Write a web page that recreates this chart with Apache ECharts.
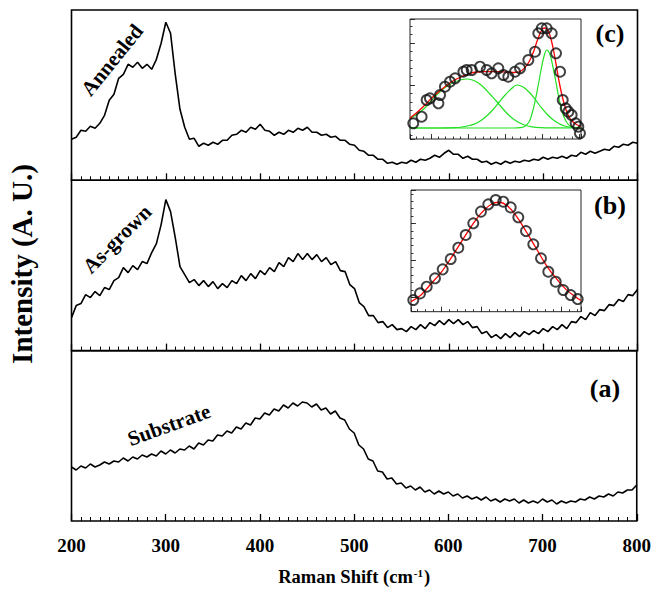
<!DOCTYPE html>
<html><head><meta charset="utf-8">
<script src="https://cdn.jsdelivr.net/npm/echarts@6/dist/echarts.min.js"></script>
<style>html,body{margin:0;padding:0;background:#fff}#c{width:654px;height:596px}</style>
</head><body><div id="c"></div>
<script>
// Raman shift sampling grid (cm^-1), 200..800 every 5
const ramanShift = Array.from({length:121}, (_, i) => 200 + 5 * i);
const xTicks = [200, 300, 400, 500, 600, 700, 800];

// (c) Annealed
const annealed = [41,43,50,49,54,52,57,65,80,86,
 102,106,116,113,118,112,116,111,121,137,
 158,147,106,71,53,41,42,34,37,35,
 38,36,40,40,45,46,50,48,53,51,
 56,50,49,45,48,46,50,48,52,50,
 53,48,48,45,46,43,44,40,40,36,
 35,30,29,25,25,21,21,17,18,16,
 18,17,20,18,21,20,22,25,23,27,
 30,26,26,22,24,21,21,18,19,16,
 18,16,19,17,19,18,20,19,21,20,
 23,21,23,22,24,22,25,24,28,26,
 29,27,29,31,30,34,33,36,35,38,
 37];
// (b) As-grown
const asGrown = [33,45,47,56,53,59,55,63,61,70,
 73,83,78,85,81,89,87,98,107,126,
 151,139,113,84,76,68,71,65,70,64,
 69,62,67,63,70,67,75,70,77,72,
 80,76,83,79,88,84,93,89,97,91,
 97,91,96,89,93,86,89,80,79,66,
 62,48,44,35,35,28,29,23,26,21,
 22,19,24,21,26,22,28,25,30,26,
 31,27,31,26,29,23,24,17,19,13,
 16,12,17,13,18,14,19,16,20,17,
 22,19,24,21,26,22,29,28,34,31,
 38,35,41,40,46,45,51,49,56,55,
 61];
// (a) Substrate
const substrate = [54,51,55,53,57,54,56,59,57,60,
 59,63,60,64,62,66,64,67,65,70,
 67,71,68,72,71,75,72,78,76,81,
 80,86,85,90,88,94,92,98,96,103,
 102,108,106,112,110,116,113,118,115,119,
 118,114,117,111,113,107,110,103,101,92,
 88,76,72,62,60,50,49,42,43,37,
 38,33,35,31,34,29,31,27,30,27,
 29,25,27,23,25,22,24,21,24,20,
 22,19,22,20,22,18,21,18,20,18,
 22,19,21,17,20,18,20,19,22,21,
 24,22,25,24,27,25,29,28,31,31,
 36];

// Inset (c): data points, fit and components
const insetCPointsX = [212.2,217.8,221.2,223.4,229.1,230.2,233.5,236.9,240.3,245.9,248.1,251.5,257.1,261.6,264.9,269.4,272.8,276.1,280.6,284,289.6,294.1,296.3,298.6,301.9,305.3,308.2,310.9,312.7,314.7,316.5,318.7,321.4,323.2,324.3];
const insetCPointsY = [0.047,0.113,0.28,0.297,0.247,0.33,0.413,0.463,0.497,0.563,0.58,0.58,0.613,0.58,0.547,0.597,0.53,0.513,0.563,0.597,0.68,0.763,0.947,0.997,0.997,0.947,0.747,0.563,0.28,0.197,0.163,0.13,0.047,0.013,-0.053];
const insetCFitX = [210,215,220,225,230,235,240,245,250,255,260,265,270,275,280,284,287,290,293,296,299,301,303,305,307,309,311,313,315,317,319,322,325];
const insetCFitY = [0.1,0.16,0.23,0.305,0.37,0.43,0.48,0.515,0.545,0.56,0.563,0.563,0.563,0.558,0.555,0.565,0.6,0.66,0.76,0.89,0.99,1.0,0.97,0.88,0.74,0.57,0.41,0.28,0.18,0.11,0.07,0.035,0.015];
const insetCG1X = [210,215,220,225,230,235,240,245,248,252,256,260,264,268,272,276,280,284,288,292,298,305,325];
const insetCG1Y = [0.097,0.14,0.2,0.285,0.36,0.42,0.46,0.485,0.49,0.48,0.45,0.4,0.335,0.27,0.2,0.135,0.085,0.05,0.025,0.012,0.004,0.001,0];
const insetCG2X = [210,230,240,245,250,255,260,265,270,274,278,282,286,290,294,298,302,306,310,314,318,325];
const insetCG2Y = [0,0,0.003,0.01,0.025,0.05,0.1,0.17,0.26,0.33,0.39,0.43,0.41,0.36,0.29,0.21,0.14,0.085,0.045,0.02,0.008,0.002];
const insetCG3X = [210,280,284,287,290,292,294,296,298,300,302,304,306,308,310,312,314,316,318,320,325];
const insetCG3Y = [0,0,0.003,0.015,0.06,0.14,0.26,0.41,0.57,0.71,0.78,0.74,0.62,0.47,0.31,0.18,0.095,0.045,0.018,0.007,0];

// Inset (b): data points and fit
const insetBPointsX = [2.3,9,15.7,24,31.7,39.7,47.3,54.7,62.3,70,77.3,84.7,92.3,99.7,107.3,115,122.3,130,137.3,144.7,152.3,159.7,166.7];
const insetBPointsY = [0.104,0.164,0.224,0.299,0.379,0.472,0.573,0.687,0.791,0.896,0.961,1.0,0.985,0.934,0.845,0.722,0.603,0.478,0.358,0.269,0.194,0.149,0.113];
const insetBFitX = [0,10,20,30,40,50,60,70,80,88,96,105,115,125,135,145,155,165,170];
const insetBFitY = [0.09,0.15,0.25,0.35,0.48,0.62,0.76,0.88,0.96,0.98,0.95,0.86,0.72,0.57,0.42,0.3,0.2,0.13,0.1];

const FONT = "'Liberation Serif','Times New Roman',serif";
const zip = (xs, ys) => xs.map((x, i) => [x, ys[i]]);

const chart = echarts.init(document.getElementById('c'), null, {renderer: 'svg'});

const mainGrid = (top) => ({left: 71.5, top: top, width: 566, height: 170.3, show: true,
  borderColor: '#000', borderWidth: 1.6, backgroundColor: 'transparent'});

const mainX = (g, labels) => ({
  type: 'value', gridIndex: g, min: 200, max: 800, interval: 100, position: 'bottom',
  axisLine: {show: false, onZero: false},
  axisTick: {show: true, inside: true, length: 7, lineStyle: {color: '#000', width: 1.3}},
  minorTick: {show: true, splitNumber: 10, length: 4, lineStyle: {color: '#000', width: 1}},
  splitLine: {show: false}, minorSplitLine: {show: false},
  axisLabel: {show: labels, margin: 15, color: '#000', fontFamily: FONT, fontWeight: 'bold', fontSize: 19},
  name: labels ? 'Raman Shift (cm{sup|-1})' : '',
  nameLocation: 'middle', nameGap: 46,
  nameTextStyle: {color: '#000', fontFamily: FONT, fontWeight: 'bold', fontSize: 18.5,
    rich: {sup: {fontSize: 11, fontFamily: FONT, fontWeight: 'bold', color: '#000', verticalAlign: 'top', padding: [0, 1, 9, 1]}}}
});
const mainY = (g) => ({type: 'value', gridIndex: g, min: 0, max: 170.3, show: false});

// Data axes of the insets (invisible, carry the series)
const insetDataX = (g, min, max) => ({type: 'value', gridIndex: g, min: min, max: max, position: 'bottom',
  axisLine: {show: false, onZero: false}, axisLabel: {show: false}, axisTick: {show: false}, splitLine: {show: false}});
const insetDataY = (g, min, max) => ({type: 'value', gridIndex: g, min: min, max: max, position: 'left',
  axisLine: {show: false, onZero: false}, axisLabel: {show: false}, axisTick: {show: false}, splitLine: {show: false}});
// Tick-only axes of the insets (in tick-step units, ticks on multiples of the step)
const tickAxis = (dim, g, min, max, step, len) => ({
  type: 'value', gridIndex: g, min: min, max: max, minInterval: step, maxInterval: step,
  position: dim === 'x' ? 'bottom' : 'left',
  axisLine: {show: false, onZero: false}, axisLabel: {show: false}, splitLine: {show: false},
  axisTick: {show: true, inside: true, length: len, lineStyle: {color: '#222', width: 0.9}}
});

const spectrum = (g, data) => ({
  type: 'line', xAxisIndex: g, yAxisIndex: g, data: zip(ramanShift, data),
  showSymbol: false, symbol: 'none', lineStyle: {color: '#000', width: 1.6}, z: 3
});
const fitLine = (xi, xs, ys, color, w) => ({
  type: 'line', xAxisIndex: xi, yAxisIndex: xi, data: zip(xs, ys), smooth: 0.4,
  showSymbol: false, symbol: 'none', lineStyle: {color: color, width: w}, z: 4
});
const points = (xi, xs, ys) => ({
  type: 'scatter', xAxisIndex: xi, yAxisIndex: xi, data: zip(xs, ys), symbol: 'circle', symbolSize: 10,
  itemStyle: {color: 'rgba(0,0,0,0)', borderColor: '#111', borderWidth: 1.9}, z: 5
});

const txt = (s, x, y, deg, size) => ({
  type: 'text', x: x, y: y, rotation: deg * Math.PI / 180, z: 10,
  style: {text: s, x: 0, y: 0, fill: '#000', font: 'bold ' + size + 'px ' + FONT,
    textAlign: 'center', textVerticalAlign: 'middle', align: 'center', verticalAlign: 'middle'}
});

chart.setOption({
  animation: false,
  backgroundColor: '#fff',
  grid: [mainGrid(10), mainGrid(180.3), mainGrid(350.7),
    {left: 410, top: 19, width: 171, height: 120, show: true, borderColor: '#222', borderWidth: 1, backgroundColor: 'transparent'},
    {left: 411, top: 190, width: 170, height: 121.7, show: true, borderColor: '#222', borderWidth: 1, backgroundColor: 'transparent'}],
  xAxis: [mainX(0, false), mainX(1, false), mainX(2, true),
    insetDataX(3, 210, 325),
    tickAxis('x', 3, -2.8, 20.2, 1, 2.5), tickAxis('x', 3, -2.8, 20.2, 5, 5),
    insetDataX(4, 0, 170),
    tickAxis('x', 4, -3.75, 17.5, 1, 2.5), tickAxis('x', 4, -3.75, 17.5, 5, 5)],
  yAxis: [mainY(0), mainY(1), mainY(2),
    insetDataY(3, -0.11, 1.09),
    tickAxis('y', 3, -1.4286, 12.857, 1, 2.5), tickAxis('y', 3, -1.4286, 12.857, 5, 5),
    insetDataY(4, 0, 1.0896),
    tickAxis('y', 4, -1.97, 14.54, 1, 2.5), tickAxis('y', 4, -1.97, 14.54, 5, 5)],
  series: [
    spectrum(0, annealed), spectrum(1, asGrown), spectrum(2, substrate),
    fitLine(3, insetCG1X, insetCG1Y, '#22e022', 1.2),
    fitLine(3, insetCG2X, insetCG2Y, '#22e022', 1.2),
    fitLine(3, insetCG3X, insetCG3Y, '#22e022', 1.2),
    points(3, insetCPointsX, insetCPointsY),
    fitLine(3, insetCFitX, insetCFitY, '#ff0000', 1.3),
    points(6, insetBPointsX, insetBPointsY),
    fitLine(6, insetBFitX, insetBFitY, '#ff0000', 1.3)
  ],
  graphic: [
    txt('Intensity (A. U.)', 22, 264, 90, 29),
    txt('Annealed', 112, 60, 51, 21),
    txt('As-grown', 117, 239, 45, 21),
    txt('Substrate', 169, 425, 20, 21),
    txt('(c)', 610, 33, 0, 26),
    txt('(b)', 610, 205, 0, 26),
    txt('(a)', 605, 388, 0, 26)
  ]
});
</script></body></html>
